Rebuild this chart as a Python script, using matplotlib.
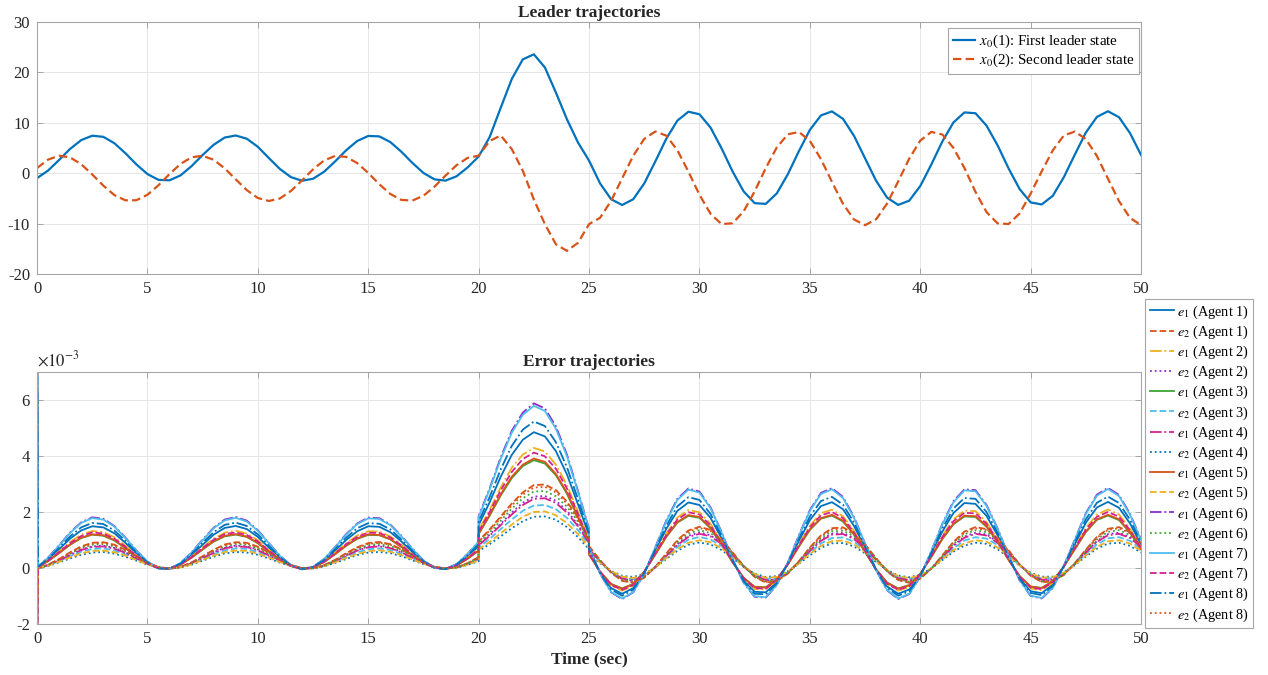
import numpy as np
import matplotlib
matplotlib.use('Agg')
import matplotlib.pyplot as plt

plt.rcParams['font.family'] = ['Liberation Serif', 'DejaVu Serif']
plt.rcParams['mathtext.fontset'] = 'stix'
plt.rcParams['axes.unicode_minus'] = False

# leader states, sampled every 0.5 s
t_lead = np.arange(0, 50.01, 0.5)
x0_1 = [-0.97, 0.54, 2.64, 4.84, 6.58, 7.45, 7.23, 5.97, 3.99, 1.76, -0.16, -1.31, -1.40, -0.42, 1.42, 3.62,
        5.65, 7.09, 7.49, 6.86, 5.25, 3.02, 0.85, -0.77, -1.49, -1.09, 0.30, 2.35, 4.56, 6.40, 7.40, 7.32,
        6.19, 4.27, 2.05, 0.06, -1.21, -1.46, -0.60, 1.15, 3.32,
        7.2, 13.0, 18.7, 22.6, 23.6, 21.0, 16.0, 10.7, 6.1, 2.5,
        -2.02, -5.16, -6.30, -5.16, -2.02, 2.34, 6.87, 10.45, 12.21, 11.71, 9.08, 4.96, 0.36, -3.59, -5.93,
        -6.08, -4.01, -0.22, 4.35, 8.60, 11.47, 12.27, 10.80, 7.42, 2.96, -1.49, -4.85, -6.28, -5.44, -2.53,
        1.73, 6.30, 10.07, 12.07, 11.91, 9.45, 5.56, 0.96, -3.14, -5.79, -6.19, -4.48, -0.80, 3.70, 8.09,
        11.18, 12.30, 11.12, 7.96, 3.62]
x0_2 = [1.04, 2.71, 3.48, 3.14, 1.80, -0.24, -2.45, -4.32, -5.37, -5.35, -4.27, -2.38, -0.16, 1.86, 3.17, 3.47,
        2.67, 0.97, -1.21, -3.34, -4.91, -5.50, -5.00, -3.51, -1.43, 0.77, 2.54, 3.44, 3.25, 2.02, 0.06, -2.17,
        -4.11, -5.29, -5.42, -4.46, -2.66, -0.46, 1.60, 3.05, 3.49,
        6.4, 7.5, 4.8, 0.5, -5.2, -10.1, -14.1, -15.4, -13.8, -10.1,
        -8.83, -5.46, -1.00, 3.46, 6.83, 8.28, 7.46, 4.57, 0.31, -4.26, -8.04, -10.09, -9.92, -7.56, -3.60,
        1.00, 5.11, 7.72, 8.20, 6.43, 2.83, -1.70, -6.06, -9.18, -10.30, -9.14, -5.99, -1.62, 2.91, 6.48,
        8.21, 7.69, 5.05, 1.04, -3.68, -7.70, -9.94, -10.07, -7.98, -4.03, 0.39, 4.53, 7.49, 8.27, 6.78,
        3.42, -1.08, -5.53, -8.87, -10.28]

# error trajectories (units of 1e-3); jumps at t = 20 and t = 25
t_err = np.concatenate([[0.0, 0.05], np.arange(0.5, 20.01, 0.5),
                        np.arange(20, 25.01, 0.5), np.arange(25, 50.01, 0.5)])

e1_a1 = [10.0, 0.05, 0.31, 0.67, 1.05, 1.34, 1.49, 1.45, 1.24, 0.90, 0.52, 0.19, -0.01, -0.02, 0.15, 0.46, 0.83,
         1.19, 1.43, 1.50, 1.39, 1.11, 0.73, 0.36, 0.08, -0.04, 0.03, 0.26, 0.62, 1.00, 1.31, 1.49, 1.47, 1.28,
         0.95, 0.57, 0.22, 0.01, -0.03, 0.12, 0.41, 0.78,
         1.53, 2.35, 3.26, 4.04, 4.58, 4.85, 4.70, 4.17, 3.34, 2.27, 1.16,
         0.61, -0.17, -0.72, -0.92, -0.72, -0.17, 0.61, 1.40, 2.04, 2.34, 2.25, 1.79, 1.06, 0.26, -0.44, -0.85,
         -0.87, -0.51, 0.16, 0.96, 1.71, 2.21, 2.35, 2.10, 1.50, 0.72, -0.07, -0.66, -0.92, -0.77, -0.26, 0.50,
         1.30, 1.96, 2.32, 2.29, 1.86, 1.17, 0.36, -0.36, -0.83, -0.90, -0.59, 0.06, 0.84, 1.62, 2.16, 2.36,
         2.15, 1.59, 0.83]
e2_a1 = [-3.0, -0.01, 0.12, 0.32, 0.56, 0.77, 0.90, 0.92, 0.83, 0.65, 0.41, 0.19, 0.03, -0.03, 0.04, 0.20, 0.42,
         0.65, 0.84, 0.92, 0.90, 0.76, 0.55, 0.31, 0.11, -0.01, -0.02, 0.10, 0.29, 0.53, 0.74, 0.89, 0.93, 0.85,
         0.67, 0.44, 0.22, 0.05, -0.03, 0.02, 0.17, 0.39,
         0.97, 1.38, 1.84, 2.30, 2.70, 2.96, 2.98, 2.78, 2.37, 1.79, 1.07,
         0.78, 0.28, -0.17, -0.46, -0.53, -0.35, 0.04, 0.52, 0.99, 1.34, 1.47, 1.36, 1.03, 0.56, 0.07, -0.32,
         -0.52, -0.47, -0.20, 0.24, 0.73, 1.16, 1.42, 1.45, 1.24, 0.84, 0.35, -0.12, -0.43, -0.53, -0.38, -0.03,
         0.45, 0.93, 1.30, 1.46, 1.39, 1.08, 0.63, 0.13, -0.28, -0.50, -0.49, -0.25, 0.17, 0.66, 1.11, 1.40,
         1.46, 1.28, 0.90]
e1_a2 = [7.5, 0.04, 0.27, 0.59, 0.93, 1.19, 1.32, 1.28, 1.10, 0.80, 0.46, 0.17, -0.01, -0.02, 0.13, 0.41, 0.74,
         1.05, 1.26, 1.33, 1.23, 0.99, 0.65, 0.32, 0.07, -0.04, 0.03, 0.23, 0.55, 0.88, 1.16, 1.31, 1.30, 1.13,
         0.84, 0.50, 0.20, 0.01, -0.03, 0.10, 0.37, 0.69,
         1.35, 2.08, 2.88, 3.58, 4.05, 4.29, 4.16, 3.69, 2.96, 2.01, 1.02,
         0.54, -0.15, -0.64, -0.81, -0.64, -0.15, 0.54, 1.24, 1.80, 2.07, 1.99, 1.58, 0.94, 0.23, -0.39, -0.75,
         -0.77, -0.45, 0.14, 0.85, 1.51, 1.96, 2.08, 1.85, 1.33, 0.64, -0.06, -0.58, -0.81, -0.68, -0.23, 0.44,
         1.15, 1.74, 2.05, 2.03, 1.64, 1.04, 0.32, -0.32, -0.73, -0.80, -0.53, 0.05, 0.74, 1.43, 1.91, 2.09,
         1.91, 1.41, 0.74]
e2_a2 = [-2.8, 0.00, 0.10, 0.28, 0.48, 0.66, 0.77, 0.80, 0.72, 0.56, 0.36, 0.16, 0.03, -0.02, 0.03, 0.17, 0.37,
         0.56, 0.72, 0.80, 0.77, 0.66, 0.47, 0.27, 0.10, -0.01, -0.01, 0.08, 0.25, 0.45, 0.64, 0.77, 0.80, 0.73,
         0.58, 0.38, 0.19, 0.04, -0.02, 0.02, 0.15, 0.34,
         0.84, 1.19, 1.58, 1.98, 2.33, 2.55, 2.57, 2.40, 2.05, 1.54, 0.92,
         0.67, 0.24, -0.15, -0.40, -0.45, -0.30, 0.03, 0.45, 0.85, 1.15, 1.27, 1.17, 0.89, 0.48, 0.06, -0.27,
         -0.44, -0.41, -0.17, 0.21, 0.63, 1.00, 1.23, 1.25, 1.07, 0.72, 0.30, -0.10, -0.37, -0.46, -0.33, -0.02,
         0.39, 0.81, 1.12, 1.26, 1.20, 0.93, 0.54, 0.11, -0.24, -0.44, -0.43, -0.22, 0.15, 0.57, 0.96, 1.21,
         1.26, 1.10, 0.77]
e1_a3 = [8.0, 0.04, 0.24, 0.53, 0.83, 1.07, 1.19, 1.15, 0.98, 0.71, 0.41, 0.15, -0.01, -0.02, 0.12, 0.37, 0.66,
         0.94, 1.13, 1.19, 1.11, 0.88, 0.58, 0.29, 0.07, -0.03, 0.03, 0.21, 0.49, 0.79, 1.04, 1.18, 1.17, 1.02,
         0.75, 0.45, 0.18, 0.01, -0.03, 0.09, 0.33, 0.62,
         1.21, 1.87, 2.59, 3.21, 3.64, 3.85, 3.73, 3.31, 2.65, 1.80, 0.92,
         0.48, -0.13, -0.57, -0.73, -0.57, -0.13, 0.48, 1.11, 1.62, 1.86, 1.79, 1.42, 0.84, 0.20, -0.35, -0.67,
         -0.69, -0.41, 0.12, 0.76, 1.36, 1.76, 1.87, 1.66, 1.19, 0.57, -0.05, -0.52, -0.73, -0.61, -0.20, 0.39,
         1.03, 1.56, 1.84, 1.82, 1.47, 0.93, 0.29, -0.29, -0.66, -0.71, -0.47, 0.05, 0.67, 1.28, 1.72, 1.87,
         1.71, 1.26, 0.66]
e2_a3 = [-3.0, 0.00, 0.09, 0.24, 0.42, 0.58, 0.68, 0.70, 0.63, 0.49, 0.31, 0.14, 0.02, -0.02, 0.03, 0.15, 0.32,
         0.49, 0.63, 0.70, 0.68, 0.57, 0.41, 0.23, 0.08, -0.01, -0.01, 0.07, 0.22, 0.40, 0.56, 0.67, 0.70, 0.64,
         0.51, 0.33, 0.17, 0.03, -0.02, 0.02, 0.13, 0.30,
         0.73, 1.04, 1.39, 1.73, 2.04, 2.23, 2.25, 2.10, 1.79, 1.35, 0.81,
         0.59, 0.21, -0.13, -0.35, -0.40, -0.26, 0.03, 0.39, 0.75, 1.01, 1.11, 1.02, 0.78, 0.42, 0.05, -0.24,
         -0.39, -0.36, -0.15, 0.18, 0.55, 0.88, 1.07, 1.09, 0.94, 0.63, 0.26, -0.09, -0.33, -0.40, -0.29, -0.02,
         0.34, 0.70, 0.98, 1.10, 1.05, 0.82, 0.47, 0.10, -0.21, -0.38, -0.37, -0.19, 0.13, 0.50, 0.84, 1.06,
         1.10, 0.97, 0.68]
e1_a4 = [-2.6, 0.00, 0.10, 0.27, 0.46, 0.64, 0.75, 0.77, 0.69, 0.54, 0.34, 0.16, 0.03, -0.02, 0.03, 0.17, 0.35,
         0.54, 0.70, 0.77, 0.75, 0.63, 0.45, 0.26, 0.09, -0.01, -0.01, 0.08, 0.24, 0.44, 0.62, 0.74, 0.77, 0.71,
         0.56, 0.37, 0.18, 0.04, -0.02, 0.02, 0.14, 0.33,
         0.81, 1.15, 1.53, 1.91, 2.25, 2.47, 2.49, 2.32, 1.98, 1.49, 0.89,
         0.65, 0.23, -0.14, -0.38, -0.44, -0.29, 0.03, 0.43, 0.82, 1.11, 1.22, 1.13, 0.86, 0.47, 0.06, -0.26,
         -0.43, -0.40, -0.17, 0.20, 0.61, 0.97, 1.19, 1.21, 1.03, 0.70, 0.29, -0.10, -0.36, -0.44, -0.32, -0.02,
         0.38, 0.78, 1.08, 1.22, 1.16, 0.90, 0.52, 0.11, -0.23, -0.42, -0.41, -0.21, 0.14, 0.55, 0.93, 1.17,
         1.22, 1.07, 0.75]
e2_a4 = [-2.9, 0.00, 0.07, 0.20, 0.34, 0.47, 0.55, 0.57, 0.51, 0.40, 0.26, 0.12, 0.02, -0.02, 0.02, 0.12, 0.26,
         0.40, 0.52, 0.57, 0.55, 0.47, 0.34, 0.19, 0.07, -0.01, -0.01, 0.06, 0.18, 0.32, 0.46, 0.55, 0.57, 0.53,
         0.42, 0.27, 0.14, 0.03, -0.02, 0.01, 0.11, 0.24,
         0.60, 0.85, 1.13, 1.42, 1.67, 1.83, 1.84, 1.72, 1.46, 1.10, 0.66,
         0.48, 0.17, -0.10, -0.28, -0.32, -0.21, 0.02, 0.32, 0.61, 0.83, 0.91, 0.84, 0.64, 0.35, 0.04, -0.20,
         -0.32, -0.29, -0.12, 0.15, 0.45, 0.72, 0.88, 0.89, 0.77, 0.52, 0.21, -0.07, -0.27, -0.33, -0.24, -0.02,
         0.28, 0.58, 0.80, 0.90, 0.86, 0.67, 0.39, 0.08, -0.17, -0.31, -0.31, -0.15, 0.10, 0.41, 0.69, 0.87,
         0.90, 0.79, 0.55]
e1_a5 = [7.8, 0.04, 0.25, 0.54, 0.84, 1.08, 1.20, 1.17, 1.00, 0.72, 0.42, 0.15, -0.01, -0.02, 0.12, 0.37, 0.67,
         0.96, 1.15, 1.21, 1.12, 0.90, 0.59, 0.29, 0.07, -0.03, 0.03, 0.21, 0.50, 0.80, 1.06, 1.20, 1.18, 1.03,
         0.76, 0.46, 0.18, 0.01, -0.03, 0.09, 0.33, 0.63,
         1.23, 1.90, 2.63, 3.26, 3.69, 3.91, 3.79, 3.36, 2.69, 1.83, 0.93,
         0.49, -0.13, -0.58, -0.74, -0.58, -0.13, 0.49, 1.13, 1.64, 1.89, 1.82, 1.44, 0.86, 0.21, -0.35, -0.68,
         -0.70, -0.41, 0.13, 0.77, 1.38, 1.78, 1.90, 1.69, 1.21, 0.58, -0.05, -0.53, -0.74, -0.62, -0.21, 0.40,
         1.05, 1.58, 1.87, 1.85, 1.50, 0.94, 0.29, -0.29, -0.67, -0.72, -0.48, 0.05, 0.68, 1.30, 1.74, 1.90,
         1.74, 1.28, 0.67]
e2_a5 = [-2.4, 0.00, 0.08, 0.22, 0.38, 0.52, 0.61, 0.62, 0.56, 0.44, 0.28, 0.13, 0.02, -0.02, 0.02, 0.13, 0.29,
         0.44, 0.57, 0.62, 0.61, 0.51, 0.37, 0.21, 0.08, -0.01, -0.01, 0.07, 0.20, 0.36, 0.50, 0.60, 0.63, 0.58,
         0.46, 0.30, 0.15, 0.03, -0.02, 0.01, 0.12, 0.27,
         0.66, 0.93, 1.24, 1.55, 1.83, 2.00, 2.02, 1.88, 1.60, 1.21, 0.72,
         0.52, 0.19, -0.11, -0.31, -0.36, -0.23, 0.02, 0.35, 0.67, 0.90, 0.99, 0.92, 0.70, 0.38, 0.05, -0.21,
         -0.35, -0.32, -0.13, 0.16, 0.50, 0.79, 0.96, 0.98, 0.84, 0.57, 0.23, -0.08, -0.29, -0.36, -0.26, -0.02,
         0.31, 0.63, 0.88, 0.99, 0.94, 0.73, 0.42, 0.09, -0.19, -0.34, -0.33, -0.17, 0.11, 0.45, 0.75, 0.95,
         0.99, 0.87, 0.61]
e1_a6 = [8.5, 0.06, 0.37, 0.81, 1.27, 1.63, 1.81, 1.76, 1.50, 1.09, 0.63, 0.23, -0.01, -0.03, 0.18, 0.56, 1.01,
         1.44, 1.73, 1.82, 1.69, 1.35, 0.89, 0.44, 0.10, -0.05, 0.04, 0.32, 0.75, 1.21, 1.59, 1.80, 1.78, 1.55,
         1.15, 0.69, 0.27, 0.01, -0.04, 0.14, 0.50, 0.95,
         1.85, 2.85, 3.95, 4.90, 5.55, 5.88, 5.70, 5.05, 4.05, 2.75, 1.40,
         0.74, -0.20, -0.87, -1.11, -0.87, -0.20, 0.74, 1.70, 2.47, 2.84, 2.73, 2.17, 1.29, 0.31, -0.53, -1.03,
         -1.06, -0.62, 0.19, 1.16, 2.07, 2.68, 2.85, 2.54, 1.82, 0.87, -0.08, -0.80, -1.11, -0.93, -0.31, 0.60,
         1.58, 2.38, 2.81, 2.78, 2.25, 1.42, 0.44, -0.44, -1.00, -1.09, -0.72, 0.07, 1.02, 1.96, 2.62, 2.86,
         2.61, 1.93, 1.01]
e2_a6 = [-3.2, 0.00, 0.11, 0.30, 0.51, 0.71, 0.83, 0.85, 0.77, 0.60, 0.38, 0.17, 0.03, -0.02, 0.03, 0.18, 0.39,
         0.60, 0.77, 0.85, 0.83, 0.70, 0.50, 0.29, 0.10, -0.01, -0.01, 0.09, 0.27, 0.48, 0.68, 0.82, 0.86, 0.78,
         0.62, 0.41, 0.20, 0.04, -0.02, 0.02, 0.16, 0.36,
         0.89, 1.27, 1.69, 2.12, 2.49, 2.73, 2.75, 2.56, 2.19, 1.65, 0.99,
         0.71, 0.26, -0.16, -0.42, -0.48, -0.32, 0.03, 0.48, 0.91, 1.23, 1.35, 1.25, 0.95, 0.52, 0.07, -0.29,
         -0.47, -0.44, -0.18, 0.22, 0.68, 1.07, 1.31, 1.33, 1.14, 0.77, 0.32, -0.11, -0.40, -0.49, -0.35, -0.02,
         0.42, 0.86, 1.20, 1.35, 1.28, 1.00, 0.58, 0.12, -0.25, -0.47, -0.46, -0.23, 0.16, 0.61, 1.02, 1.29,
         1.35, 1.18, 0.83]
e1_a7 = [8.0, 0.06, 0.36, 0.80, 1.25, 1.61, 1.78, 1.73, 1.48, 1.07, 0.62, 0.23, -0.01, -0.03, 0.18, 0.55, 0.99,
         1.42, 1.70, 1.79, 1.66, 1.33, 0.88, 0.43, 0.10, -0.05, 0.04, 0.32, 0.74, 1.19, 1.57, 1.77, 1.75, 1.53,
         1.13, 0.68, 0.27, 0.01, -0.04, 0.14, 0.49, 0.94,
         1.82, 2.81, 3.89, 4.83, 5.47, 5.79, 5.61, 4.97, 3.99, 2.71, 1.38,
         0.73, -0.20, -0.86, -1.09, -0.86, -0.20, 0.73, 1.67, 2.43, 2.80, 2.69, 2.14, 1.27, 0.31, -0.52, -1.01,
         -1.04, -0.61, 0.19, 1.14, 2.04, 2.64, 2.81, 2.50, 1.79, 0.86, -0.08, -0.79, -1.09, -0.92, -0.31, 0.59,
         1.56, 2.34, 2.77, 2.74, 2.22, 1.40, 0.43, -0.43, -0.99, -1.07, -0.71, 0.07, 1.00, 1.93, 2.58, 2.82,
         2.57, 1.90, 0.99]
e2_a7 = [-3.0, 0.04, 0.26, 0.57, 0.89, 1.14, 1.27, 1.23, 1.05, 0.76, 0.44, 0.16, -0.01, -0.02, 0.13, 0.39, 0.71,
         1.01, 1.21, 1.27, 1.18, 0.95, 0.62, 0.31, 0.07, -0.04, 0.03, 0.22, 0.53, 0.85, 1.11, 1.26, 1.25, 1.09,
         0.81, 0.48, 0.19, 0.01, -0.03, 0.10, 0.35, 0.67,
         1.30, 2.00, 2.77, 3.43, 3.89, 4.12, 3.99, 3.54, 2.84, 1.93, 0.98,
         0.52, -0.14, -0.61, -0.78, -0.61, -0.14, 0.52, 1.19, 1.73, 1.99, 1.91, 1.52, 0.90, 0.22, -0.37, -0.72,
         -0.74, -0.43, 0.13, 0.81, 1.45, 1.88, 2.00, 1.78, 1.27, 0.61, -0.06, -0.56, -0.78, -0.65, -0.22, 0.42,
         1.11, 1.67, 1.97, 1.95, 1.58, 0.99, 0.31, -0.31, -0.70, -0.76, -0.50, 0.05, 0.71, 1.37, 1.83, 2.00,
         1.83, 1.35, 0.71]
e1_a8 = [9.0, 0.05, 0.33, 0.72, 1.13, 1.45, 1.61, 1.57, 1.34, 0.97, 0.56, 0.20, -0.01, -0.03, 0.16, 0.50, 0.90,
         1.28, 1.54, 1.62, 1.50, 1.20, 0.79, 0.39, 0.09, -0.04, 0.04, 0.28, 0.67, 1.08, 1.42, 1.60, 1.58, 1.38,
         1.02, 0.61, 0.24, 0.01, -0.04, 0.12, 0.45, 0.85,
         1.65, 2.54, 3.52, 4.36, 4.94, 5.23, 5.07, 4.49, 3.60, 2.45, 1.25,
         0.66, -0.18, -0.77, -0.99, -0.77, -0.18, 0.66, 1.51, 2.20, 2.53, 2.43, 1.93, 1.15, 0.28, -0.47, -0.92,
         -0.94, -0.55, 0.17, 1.03, 1.84, 2.39, 2.54, 2.26, 1.62, 0.77, -0.07, -0.71, -0.99, -0.83, -0.28, 0.53,
         1.41, 2.12, 2.50, 2.47, 2.00, 1.26, 0.39, -0.39, -0.89, -0.97, -0.64, 0.06, 0.91, 1.74, 2.33, 2.55,
         2.32, 1.72, 0.90]
e2_a8 = [-2.5, -0.01, 0.11, 0.31, 0.54, 0.74, 0.87, 0.90, 0.81, 0.63, 0.40, 0.18, 0.03, -0.02, 0.03, 0.19, 0.41,
         0.63, 0.81, 0.90, 0.87, 0.74, 0.53, 0.30, 0.11, -0.01, -0.01, 0.09, 0.28, 0.51, 0.72, 0.86, 0.90, 0.83,
         0.65, 0.43, 0.21, 0.04, -0.02, 0.02, 0.17, 0.38,
         0.94, 1.34, 1.78, 2.23, 2.62, 2.87, 2.90, 2.70, 2.30, 1.73, 1.04,
         0.75, 0.27, -0.16, -0.45, -0.51, -0.34, 0.03, 0.50, 0.96, 1.30, 1.43, 1.32, 1.00, 0.54, 0.07, -0.31,
         -0.50, -0.46, -0.19, 0.23, 0.71, 1.13, 1.38, 1.41, 1.20, 0.81, 0.34, -0.11, -0.42, -0.51, -0.37, -0.02,
         0.44, 0.91, 1.26, 1.42, 1.35, 1.05, 0.61, 0.13, -0.27, -0.49, -0.48, -0.24, 0.16, 0.64, 1.08, 1.36,
         1.42, 1.24, 0.87]

err_series = [e1_a1, e2_a1, e1_a2, e2_a2, e1_a3, e2_a3, e1_a4, e2_a4,
              e1_a5, e2_a5, e1_a6, e2_a6, e1_a7, e2_a7, e1_a8, e2_a8]
err_labels = []
for a in range(1, 9):
    err_labels.append(r'$e_1$ (Agent %d)' % a)
    err_labels.append(r'$e_2$ (Agent %d)' % a)

palette = ['#0072BD', '#D95319', '#EDB120', '#8A2BD0', '#3FA535', '#4DBEEE', '#D6208F']
styles = ['-', '--', '-.', ':']

fig = plt.figure(figsize=(12.68, 6.75), dpi=100)
ax1 = fig.add_axes([0.0292, 0.594, 0.8707, 0.3733])
ax2 = fig.add_axes([0.0292, 0.0756, 0.8707, 0.3733])

for ax in (ax1, ax2):
    ax.set_xlim(0, 50)
    ax.set_xticks(np.arange(0, 51, 5))
    ax.grid(True, color='#e6e6e6', linewidth=0.7)
    ax.set_axisbelow(True)
    ax.tick_params(direction='in', top=True, right=True, length=4, width=0.6,
                   color='#9a9a9a', labelsize=12, labelcolor='#262626', pad=5)
    for sp in ax.spines.values():
        sp.set_color('#a6a6a6')
        sp.set_linewidth(0.8)

# top panel
ax1.plot(t_lead, x0_1, color='#0072BD', lw=1.6, label=r'$x_0$(1): First leader state')
ax1.plot(t_lead, x0_2, color='#D95319', lw=1.6, ls='--', dashes=(3.8, 1.9),
         label=r'$x_0$(2): Second leader state')
ax1.set_ylim(-20, 30)
ax1.set_yticks(np.arange(-20, 31, 10))
ax1.set_title('Leader trajectories', fontsize=12.5, fontweight='bold', color='#262626', pad=4)
leg1 = ax1.legend(loc='upper right', bbox_to_anchor=(0.9985, 0.975), borderaxespad=0,
                  fontsize=10.8, fancybox=False, framealpha=1, edgecolor='#a6a6a6',
                  handlelength=1.5, handletextpad=0.25, borderpad=0.3, labelspacing=0.12)
leg1.get_frame().set_linewidth(0.8)

# bottom panel
for i, vals in enumerate(err_series):
    ax2.plot(t_err, vals, color=palette[i % 7], ls=styles[i % 4], lw=1.3, label=err_labels[i])
ax2.set_ylim(-2, 7)
ax2.set_yticks(np.arange(-2, 7, 2))
ax2.set_title('Error trajectories', fontsize=12.5, fontweight='bold', color='#262626', pad=4)
ax2.set_xlabel('Time (sec)', fontsize=12.5, fontweight='bold', color='#262626', labelpad=3)
ax2.text(0, 1.01, r'$\times10^{-3}$', transform=ax2.transAxes, ha='left', va='bottom',
         fontsize=12, color='#262626')
leg2 = ax2.legend(loc='upper left', bbox_to_anchor=(1.004, 1.29), borderaxespad=0, fontsize=10.3,
                  fancybox=False, framealpha=1, edgecolor='#a6a6a6', handlelength=1.7,
                  handletextpad=0.2, borderpad=0.3, labelspacing=0.2)
leg2.get_frame().set_linewidth(0.8)

fig.savefig('out.png', dpi=100)
